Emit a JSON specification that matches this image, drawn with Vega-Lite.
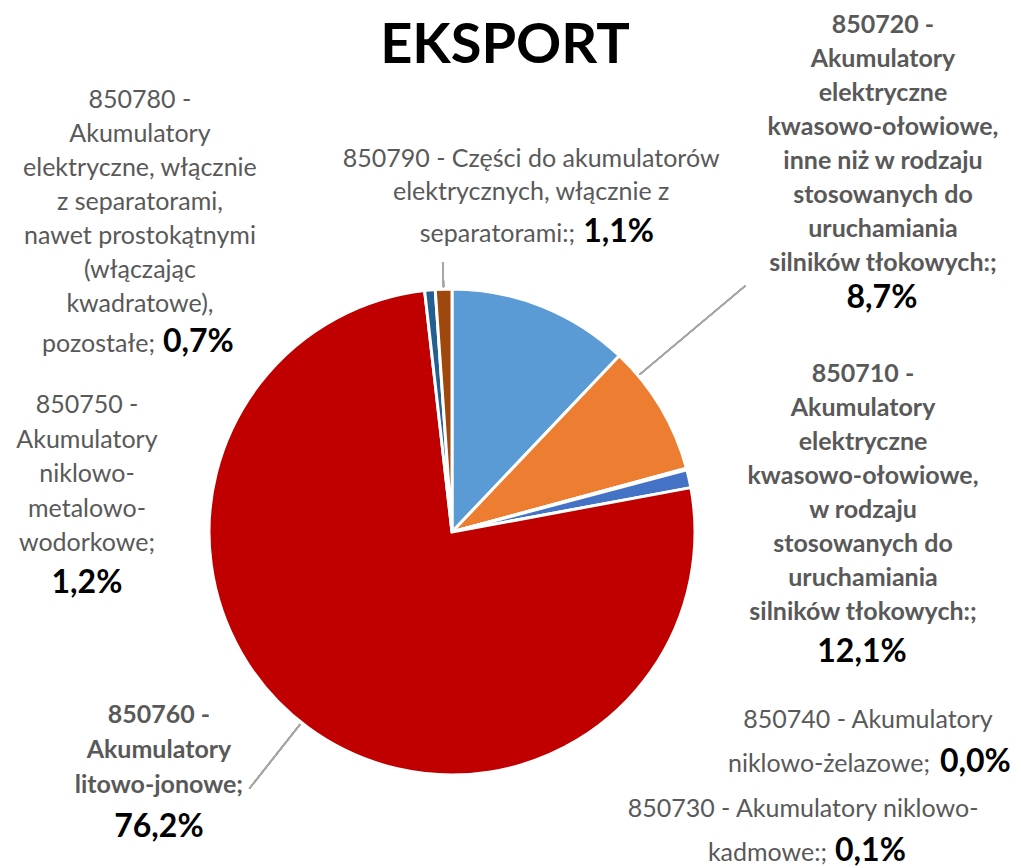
{
  "$schema": "https://vega.github.io/schema/vega-lite/v6.json",
  "autosize": {"type": "none"},
  "width": 904,
  "height": 672,
  "padding": {"left": 0, "top": 196, "right": 117, "bottom": 0},
  "background": "#ffffff",
  "config": {"view": {"stroke": null}},
  "title": {"text": "EKSPORT", "font": "Lato", "fontSize": 56, "fontWeight": "bold", "color": "#000000", "anchor": "middle", "dx": 53, "offset": -208},
  "data": {"values": [
    {"code": "850710", "value": 12.1, "pct": "12,1%", "nameTop": "850710 -\nAkumulatory\nelektryczne\nkwasowo-ołowiowe,\nw rodzaju\nstosowanych do\nuruchamiania\nsilników tłokowych:;", "nameTail": ""},
    {"code": "850720", "value": 8.7, "pct": "8,7%", "nameTop": "850720 -\nAkumulatory\nelektryczne\nkwasowo-ołowiowe,\ninne niż w rodzaju\nstosowanych do\nuruchamiania\nsilników tłokowych:;", "nameTail": ""},
    {"code": "850730", "value": 0.1, "pct": "0,1%", "nameTop": "850730 - Akumulatory niklowo-", "nameTail": "kadmowe:;"},
    {"code": "850740", "value": 0.0, "pct": "0,0%", "nameTop": "850740 - Akumulatory", "nameTail": "niklowo-żelazowe;"},
    {"code": "850750", "value": 1.2, "pct": "1,2%", "nameTop": "850750 -\nAkumulatory\nniklowo-\nmetalowo-\nwodorkowe;", "nameTail": ""},
    {"code": "850760", "value": 76.2, "pct": "76,2%", "nameTop": "850760 -\nAkumulatory\nlitowo-jonowe;", "nameTail": ""},
    {"code": "850780", "value": 0.7, "pct": "0,7%", "nameTop": "850780 -\nAkumulatory\nelektryczne, włącznie\nz separatorami,\nnawet prostokątnymi\n(włączając\nkwadratowe),", "nameTail": "pozostałe;"},
    {"code": "850790", "value": 1.1, "pct": "1,1%", "nameTop": "850790 - Części do akumulatorów\nelektrycznych, włącznie z", "nameTail": "separatorami:;"}
  ]},
  "encoding": {
    "theta": {"field": "value", "type": "quantitative", "stack": true},
    "order": {"field": "code", "type": "ordinal"},
    "detail": {"field": "code", "type": "nominal"}
  },
  "layer": [
    {
      "mark": {"type": "arc", "outerRadius": 243, "stroke": "#ffffff", "strokeWidth": 3},
      "encoding": {
        "color": {"field": "code", "type": "nominal", "legend": null,
          "scale": {"domain": ["850710", "850720", "850730", "850740", "850750", "850760", "850780", "850790"],
                    "range": ["#5B9BD5", "#ED7D31", "#A5A5A5", "#FFC000", "#4472C4", "#C00000", "#255E91", "#9E480E"]}}
      }
    },
    {
      "mark": {"type": "arc", "innerRadius": 245, "outerRadius": 270, "fill": "transparent", "stroke": "#a6a6a6", "strokeWidth": 1.5},
      "encoding": {"theta": {"datum": 99.55, "type": "quantitative"}, "theta2": {"datum": 99.55}}
    },
    {
      "mark": {"type": "arc", "innerRadius": 245, "outerRadius": 327, "fill": "transparent", "stroke": "#a6a6a6", "strokeWidth": 1.5},
      "encoding": {"theta": {"datum": 60.7, "type": "quantitative"}, "theta2": {"datum": 60.7}}
    },
    {
      "mark": {"type": "arc", "innerRadius": 245, "outerRadius": 383, "fill": "transparent", "stroke": "#a6a6a6", "strokeWidth": 1.5},
      "encoding": {"theta": {"datum": 13.9, "type": "quantitative"}, "theta2": {"datum": 13.9}}
    },

    {"mark": {"type": "text", "radius": 300, "font": "Lato", "fontSize": 25, "fill": "#595959", "lineBreak": "\n", "lineHeight": 34, "align": "center", "baseline": "alphabetic", "dx": -284.8, "dy": -125.2},
     "encoding": {"text": {"condition": {"test": "datum.code === '850780'", "field": "nameTop"}, "value": ""}}},
    {"mark": {"type": "text", "radius": 300, "font": "Lato", "fontSize": 25, "fill": "#595959", "align": "right", "baseline": "alphabetic", "dx": -269.8, "dy": 118.8},
     "encoding": {"text": {"condition": {"test": "datum.code === '850780'", "field": "nameTail"}, "value": ""}}},
    {"mark": {"type": "text", "radius": 300, "font": "Lato", "fontSize": 32, "fontWeight": "bold", "fill": "#000000", "align": "left", "baseline": "alphabetic", "dx": -261.8, "dy": 118.8},
     "encoding": {"text": {"condition": {"test": "datum.code === '850780'", "field": "pct"}, "value": ""}}},

    {"mark": {"type": "text", "radius": 300, "font": "Lato", "fontSize": 25, "fill": "#595959", "lineBreak": "\n", "lineHeight": 33, "align": "center", "baseline": "alphabetic", "dx": 89.5, "dy": -65.2},
     "encoding": {"text": {"condition": {"test": "datum.code === '850790'", "field": "nameTop"}, "value": ""}}},
    {"mark": {"type": "text", "radius": 300, "font": "Lato", "fontSize": 25, "fill": "#595959", "align": "right", "baseline": "alphabetic", "dx": 133.5, "dy": 9.8},
     "encoding": {"text": {"condition": {"test": "datum.code === '850790'", "field": "nameTail"}, "value": ""}}},
    {"mark": {"type": "text", "radius": 300, "font": "Lato", "fontSize": 32, "fontWeight": "bold", "fill": "#000000", "align": "left", "baseline": "alphabetic", "dx": 141.5, "dy": 9.8},
     "encoding": {"text": {"condition": {"test": "datum.code === '850790'", "field": "pct"}, "value": ""}}},

    {"mark": {"type": "text", "radius": 300, "font": "Lato", "fontSize": 25, "fontWeight": "bold", "fill": "#595959", "lineBreak": "\n", "lineHeight": 34, "align": "center", "baseline": "alphabetic", "dx": 173.4, "dy": -345.3},
     "encoding": {"text": {"condition": {"test": "datum.code === '850720'", "field": "nameTop"}, "value": ""}}},
    {"mark": {"type": "text", "radius": 300, "font": "Lato", "fontSize": 32, "fontWeight": "bold", "fill": "#000000", "align": "center", "baseline": "alphabetic", "dx": 172.4, "dy": -70.3},
     "encoding": {"text": {"condition": {"test": "datum.code === '850720'", "field": "pct"}, "value": ""}}},

    {"mark": {"type": "text", "radius": 300, "font": "Lato", "fontSize": 25, "fontWeight": "bold", "fill": "#595959", "lineBreak": "\n", "lineHeight": 34, "align": "center", "baseline": "alphabetic", "dx": 299.8, "dy": 128.6},
     "encoding": {"text": {"condition": {"test": "datum.code === '850710'", "field": "nameTop"}, "value": ""}}},
    {"mark": {"type": "text", "radius": 300, "font": "Lato", "fontSize": 32, "fontWeight": "bold", "fill": "#000000", "align": "center", "baseline": "alphabetic", "dx": 298.8, "dy": 408.6},
     "encoding": {"text": {"condition": {"test": "datum.code === '850710'", "field": "pct"}, "value": ""}}},

    {"mark": {"type": "text", "radius": 300, "font": "Lato", "fontSize": 25, "fill": "#595959", "align": "center", "baseline": "alphabetic", "dx": 126, "dy": 272.8},
     "encoding": {"text": {"condition": {"test": "datum.code === '850740'", "field": "nameTop"}, "value": ""}}},
    {"mark": {"type": "text", "radius": 300, "font": "Lato", "fontSize": 25, "fill": "#595959", "align": "right", "baseline": "alphabetic", "dx": 188, "dy": 316.8},
     "encoding": {"text": {"condition": {"test": "datum.code === '850740'", "field": "nameTail"}, "value": ""}}},
    {"mark": {"type": "text", "radius": 300, "font": "Lato", "fontSize": 32, "fontWeight": "bold", "fill": "#000000", "align": "left", "baseline": "alphabetic", "dx": 198, "dy": 316.8},
     "encoding": {"text": {"condition": {"test": "datum.code === '850740'", "field": "pct"}, "value": ""}}},

    {"mark": {"type": "text", "radius": 300, "font": "Lato", "fontSize": 25, "fill": "#595959", "align": "center", "baseline": "alphabetic", "dx": 61.3, "dy": 362.8},
     "encoding": {"text": {"condition": {"test": "datum.code === '850730'", "field": "nameTop"}, "value": ""}}},
    {"mark": {"type": "text", "radius": 300, "font": "Lato", "fontSize": 25, "fill": "#595959", "align": "right", "baseline": "alphabetic", "dx": 85.3, "dy": 406.8},
     "encoding": {"text": {"condition": {"test": "datum.code === '850730'", "field": "nameTail"}, "value": ""}}},
    {"mark": {"type": "text", "radius": 300, "font": "Lato", "fontSize": 32, "fontWeight": "bold", "fill": "#000000", "align": "left", "baseline": "alphabetic", "dx": 93.3, "dy": 406.8},
     "encoding": {"text": {"condition": {"test": "datum.code === '850730'", "field": "pct"}, "value": ""}}},

    {"mark": {"type": "text", "radius": 300, "font": "Lato", "fontSize": 25, "fill": "#595959", "lineBreak": "\n", "lineHeight": 34.5, "align": "center", "baseline": "alphabetic", "dx": -657.7, "dy": -53.1},
     "encoding": {"text": {"condition": {"test": "datum.code === '850750'", "field": "nameTop"}, "value": ""}}},
    {"mark": {"type": "text", "radius": 300, "font": "Lato", "fontSize": 32, "fontWeight": "bold", "fill": "#000000", "align": "center", "baseline": "alphabetic", "dx": -657.7, "dy": 126.9},
     "encoding": {"text": {"condition": {"test": "datum.code === '850750'", "field": "pct"}, "value": ""}}},

    {"mark": {"type": "text", "radius": 300, "font": "Lato", "fontSize": 25, "fontWeight": "bold", "fill": "#595959", "lineBreak": "\n", "lineHeight": 35, "align": "center", "baseline": "alphabetic", "dx": -114.6, "dy": -50.2},
     "encoding": {"text": {"condition": {"test": "datum.code === '850760'", "field": "nameTop"}, "value": ""}}},
    {"mark": {"type": "text", "radius": 300, "font": "Lato", "fontSize": 32, "fontWeight": "bold", "fill": "#000000", "align": "center", "baseline": "alphabetic", "dx": -114.6, "dy": 63.8},
     "encoding": {"text": {"condition": {"test": "datum.code === '850760'", "field": "pct"}, "value": ""}}}
  ]
}
